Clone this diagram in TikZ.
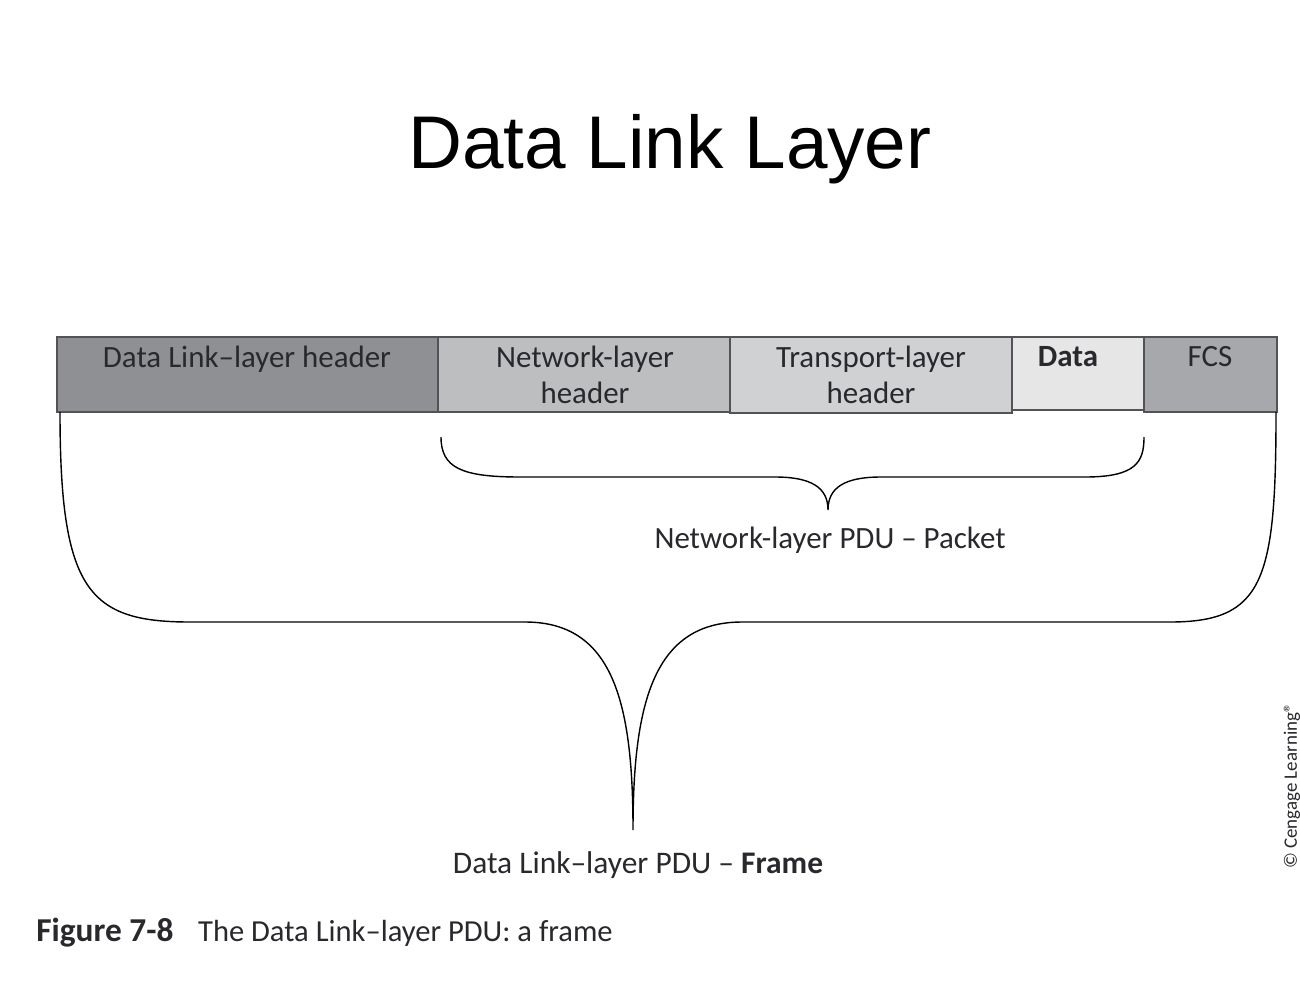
\documentclass[tikz,border=0pt]{standalone}
\usepackage{fontspec}
\setmainfont{Carlito}
\newfontfamily\titlefont{Liberation Sans}
\usepackage{tikz}
\usetikzlibrary{positioning}

\definecolor{dlhgray}{RGB}{143,144,148}
\definecolor{nethgray}{RGB}{189,190,192}
\definecolor{trhgray}{RGB}{208,209,211}
\definecolor{datagray}{RGB}{230,230,230}
\definecolor{fcsgray}{RGB}{167,168,171}
\definecolor{inkgray}{RGB}{40,40,45}

\tikzset{
  field/.style={draw=inkgray!80, line width=0.9pt},
  fieldtext/.style={anchor=north, align=center, text=inkgray,
    font=\fontsize{17.6}{20.4}\selectfont, inner sep=0pt},
  brace/.style={draw=black, line width=0.8pt},
}

\begin{document}
\begin{tikzpicture}[x=0.02cm, y=-0.02cm]
    \useasboundingbox (0,0) rectangle (1300,980);

    % Title
    \node (title) at (670,149) {\titlefont\fontsize{42.5}{50}\selectfont Data Link Layer};

    % Frame fields
    \draw[field, fill=dlhgray] (57,337) rectangle (438,412);
    \draw[field, fill=nethgray] (438,337) rectangle (730,412);
    \draw[field, fill=trhgray] (730,337) rectangle (1012,413);
    \draw[field, fill=datagray] (1012,337) rectangle (1144,410);
    \draw[field, fill=fcsgray] (1144,337) rectangle (1277,412);

    % Field labels
    \node[fieldtext] (dlh) at (247,346) {Data Link--layer header};
    \node[fieldtext] (neth) at (585,346) {Network-layer\\header};
    \node[fieldtext] (trh) at (871,346) {Transport-layer\\header};
    \node[fieldtext] (data) at (1068,346) {\textbf{Data}};
    \node[fieldtext] (fcs) at (1210,346) {FCS};

    % Packet brace
    \coordinate (pktl) at (441,437);
    \coordinate (pktr) at (1144,437);
    \coordinate (pkttip) at (828,510);
    \draw[brace] (pktl) .. controls (441,468) and (462,477) .. (520,477)
        -- (775,477) .. controls (812,477) and (828,488) .. (pkttip)
        .. controls (828,488) and (844,477) .. (881,477)
        -- (1085,477) .. controls (1136,477) and (1144,462) .. (pktr);
    \node[fieldtext] (pkt) at (830,527) {Network-layer PDU -- Packet};

    % Frame brace
    \coordinate (frml) at (60,412);
    \coordinate (frmr) at (1276,412);
    \coordinate (frmtip) at (633,830);
    \draw[brace] (frml) .. controls (60,590) and (88,622) .. (190,622)
        -- (525,622) .. controls (612,622) and (633,700) .. (frmtip)
        .. controls (633,700) and (655,622) .. (742,622)
        -- (1170,622) .. controls (1264,622) and (1276,580) .. (frmr);
    \node[fieldtext, font=\fontsize{17.9}{20.4}\selectfont] (frm) at (638,851) {Data Link--layer PDU -- \textbf{Frame}};

    % Caption
    \node[anchor=west, inner sep=0pt, text=inkgray, font=\fontsize{17.4}{20}\selectfont] (cap) at (36,933)
        {{\fontsize{19}{20}\selectfont\textbf{Figure 7-8}}\hspace{14pt}The Data Link--layer PDU: a frame};

    % Copyright
    \node[rotate=90, inner sep=0pt, text=inkgray, font=\fontsize{10.8}{12}\selectfont] (copy) at (1292,786)
        {\textcopyright\ Cengage Learning\textregistered};
\end{tikzpicture}
\end{document}
